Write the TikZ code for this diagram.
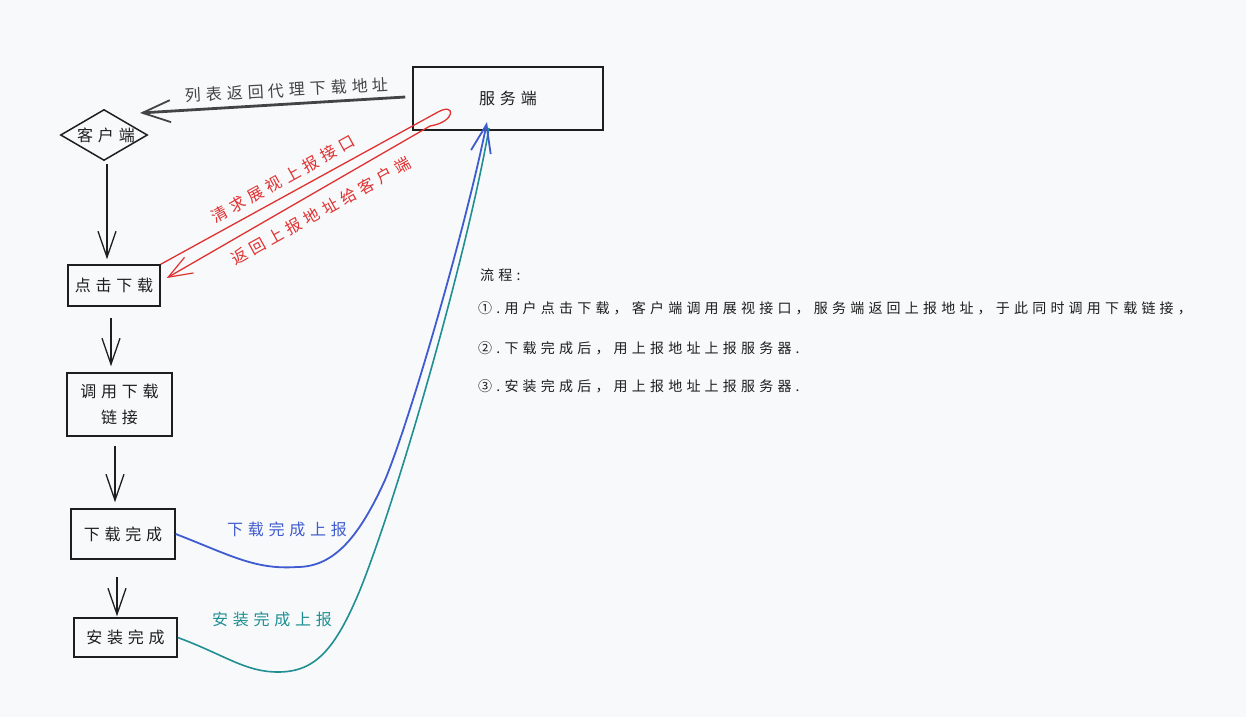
\documentclass[tikz,border=0pt]{standalone}
\usepackage{fontspec}
\newfontfamily\hw{Noto Sans CJK SC}[LetterSpace=30]
\newfontfamily\hws{Noto Sans CJK SC}[LetterSpace=30]
\usetikzlibrary{arrows.meta,shapes.geometric,calc}
\definecolor{bg}{HTML}{F8F9FA}
\definecolor{ink}{HTML}{1E1E1E}
\definecolor{grayink}{HTML}{444444}
\definecolor{redink}{HTML}{E03131}
\definecolor{blueink}{HTML}{3F5BD0}
\definecolor{tealink}{HTML}{1F8F93}
\tikzset{
  box/.style={draw=ink, line width=1.5pt, inner sep=0pt, text=ink, align=center,
    font=\hw\fontsize{16}{26}\selectfont},
  lbl/.style={font=\hw\fontsize{16}{18}\selectfont, inner sep=0pt},
  steptxt/.style={font=\hws\fontsize{14}{16}\selectfont, anchor=west, text=ink, inner sep=0pt},
  arr/.style={draw=ink, line width=1.4pt, -{Straight Barb[length=26pt,width=18pt,line width=1.3pt]}},
  grayarr/.style={draw=grayink, line width=2.8pt, -{Straight Barb[length=28pt,width=22pt,line width=1.8pt]}},
  redarr/.style={draw=redink, line width=1.3pt, -{Straight Barb[length=24pt,width=18pt,line width=1.2pt]}},
  bluearr/.style={draw=blueink, line width=1.8pt, -{Straight Barb[length=28pt,width=20pt,line width=1.8pt]}},
  tealline/.style={draw=tealink, line width=1.6pt},
}
\begin{document}
\begin{tikzpicture}[x=1pt,y=-1pt]
\useasboundingbox[fill=bg] (0,0) rectangle (1246,717);

% nodes
\node[box, minimum width=190pt, minimum height=63pt] (srv) at (508,98.5) {服务端};
\node[diamond, draw=ink, line width=1.5pt, inner sep=0pt, minimum width=87pt, minimum height=51pt,
  label={[lbl,text=ink,xshift=2pt]center:客户端}] (dia) at (104,135) {};
\node[box, minimum width=92pt, minimum height=41pt] (dl) at (114,285.5) {点击下载};
\node[box, minimum width=105pt, minimum height=63pt] (call) at (119.5,404.5) {调用下载\\链接};
\node[box, minimum width=104pt, minimum height=50pt] (done) at (123,534) {下载完成};
\node[box, minimum width=103pt, minimum height=39pt] (inst) at (125.5,637.5) {安装完成};

\coordinate (cliIn) at (140,113);
\coordinate (srvIn) at (487,122);
\coordinate (srvIn2) at (489,128);

% vertical flow arrows
\draw[arr] ([xshift=3pt,yshift=-3pt]dia.south) -- ([xshift=-7pt,yshift=5pt]dl.north);
\draw[arr] ([xshift=-3pt,yshift=-11pt]dl.south) -- ([xshift=-8.5pt,yshift=6pt]call.north);
\draw[arr] ([xshift=-4.5pt,yshift=-9pt]call.south) -- ([xshift=-8pt,yshift=6pt]done.north);
\draw[arr] ([xshift=-6pt,yshift=-17pt]done.south) -- ([xshift=-8.5pt,yshift=1pt]inst.north);

% server -> client
\draw[grayarr] ([xshift=-7pt,yshift=1.5pt]srv.west) -- (cliIn);
\node[lbl, text=grayink, rotate=3] (lbTop) at (287,90) {列表返回代理下载地址};

% red loop
\draw[redarr] (dl.north east) -- (438,112) .. controls (456,102) and (456,122) .. (430,126)
  -- ([xshift=6pt,yshift=7.5pt]dl.east);
\node[lbl, text=redink, rotate=29] (lbR1) at (283,179) {清求展视上报接口};
\node[lbl, text=redink, rotate=29] (lbR2) at (321,211) {返回上报地址给客户端};

% teal and blue curves
\draw[tealline] (inst.east) .. controls (225,655) and (245,672) .. (278,672)
  .. controls (315,672) and (335,650) .. (360,590)
  .. controls (400,490) and (468,250) .. (srvIn2);
\draw[bluearr] (done.east) .. controls (230,555) and (255,570) .. (297,567)
  .. controls (335,567) and (360,535) .. (385,480)
  .. controls (410,420) and (465,230) .. (srvIn);
\node[lbl, text=blueink] (lbB) at (287,529) {下载完成上报};
\node[lbl, text=tealink] (lbT) at (272,619) {安装完成上报};

% notes
\node[steptxt] (s0) at (480,275) {流程:};
\node[steptxt] (s1) at (478,308) {①.用户点击下载，客户端调用展视接口，服务端返回上报地址，于此同时调用下载链接，};
\node[steptxt] (s2) at (478,348) {②.下载完成后，用上报地址上报服务器.};
\node[steptxt] (s3) at (478,386) {③.安装完成后，用上报地址上报服务器.};
\end{tikzpicture}
\end{document}
